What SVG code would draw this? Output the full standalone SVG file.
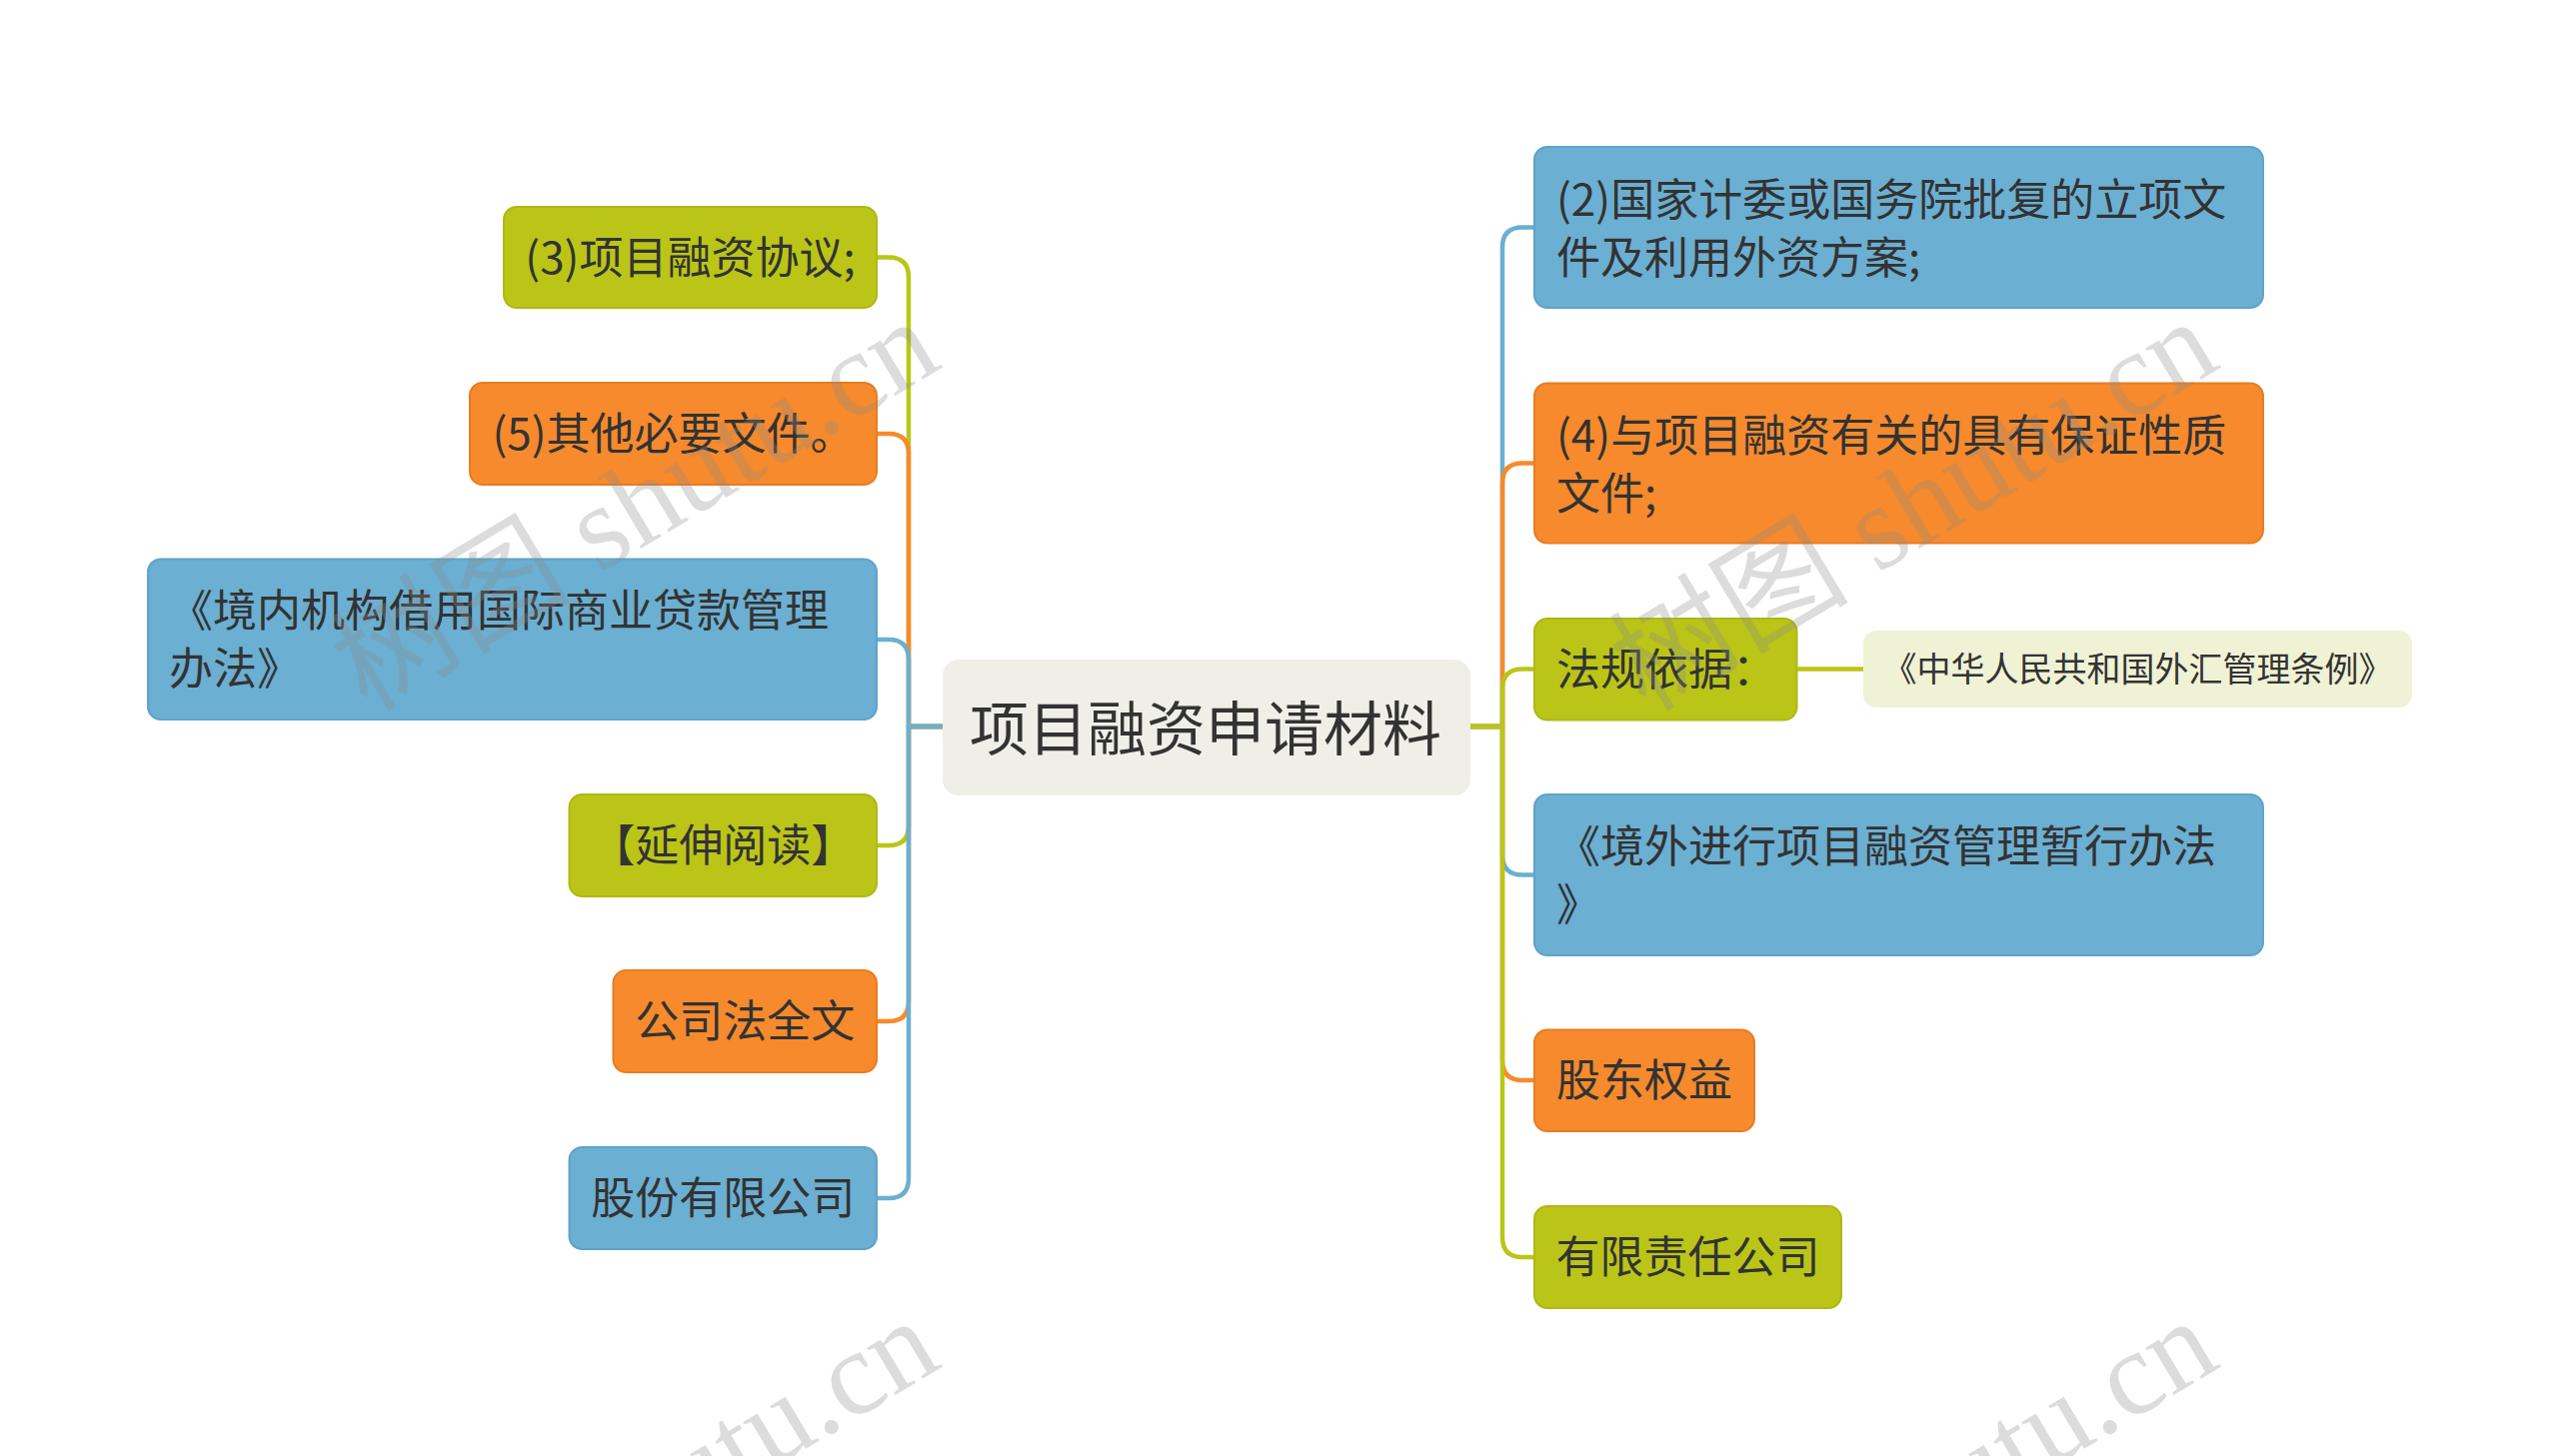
<svg xmlns="http://www.w3.org/2000/svg" width="2560" height="1457" viewBox="0 0 2560 1457">
<style>
.t{font-family:"Noto Sans CJK SC","Microsoft YaHei",sans-serif;font-size:44px;fill:#333333}
.c{font-size:59px}
.s{font-size:34px}
.g{fill:#BBC517;stroke:#AEB815;stroke-width:2}
.o{fill:#F68A2C;stroke:#E77D22;stroke-width:2}
.b{fill:#6BAFD2;stroke:#5FA3C7;stroke-width:2}
.ln{fill:none;stroke-width:4.5;stroke-linejoin:round}
.lg{stroke:#BBC517}.lo{stroke:#F68A2C}.lb{stroke:#6BAFD2}
.wm{font-family:"Liberation Serif","Noto Sans CJK SC",serif;font-size:120px;fill:#8c8c8c;fill-opacity:0.3}
</style>
<rect width="2560" height="1457" fill="#ffffff"/>
<g id="connectors">
<path class="ln lg" d="M943,727 H909 V277.5 Q909,257.5 889,257.5 H877"/>
<path class="ln lo" d="M943,727 H909 V454 Q909,434 889,434 H877"/>
<path class="ln lb" d="M943,727 H909 V660 Q909,640 889,640 H877"/>
<path class="ln lg" d="M943,727 H909 V826 Q909,846 889,846 H877"/>
<path class="ln lo" d="M943,727 H909 V1002 Q909,1022 889,1022 H877"/>
<path class="ln lb" d="M943,727 H909 V1179 Q909,1199 889,1199 H877"/>
<path class="ln lb" d="M1471,727 H1503 V247.5 Q1503,227.5 1523,227.5 H1535"/>
<path class="ln lo" d="M1471,727 H1503 V483.5 Q1503,463.5 1523,463.5 H1535"/>
<path class="ln lg" d="M1471,727 H1503 V689.5 Q1503,669.5 1523,669.5 H1535"/>
<path class="ln lb" d="M1471,727 H1503 V855.5 Q1503,875.5 1523,875.5 H1535"/>
<path class="ln lo" d="M1471,727 H1503 V1061 Q1503,1081 1523,1081 H1535"/>
<path class="ln lg" d="M1471,727 H1503 V1238 Q1503,1258 1523,1258 H1535"/>
<path class="ln lg" d="M1797.5,669.5 H1864"/>
</g>
<g id="center">
<rect x="943" y="660" width="528" height="136" rx="16" fill="#EFEFE7"/>
<text class="t c" x="1206" y="751" text-anchor="middle">项目融资申请材料</text>
</g>
<g id="n3">
<rect class="g" x="504" y="207" width="373" height="101" rx="13"/>
<text class="t" x="690.5" y="274" text-anchor="middle">(3)项目融资协议;</text>
</g>
<g id="n5">
<rect class="o" x="470" y="383" width="407" height="102" rx="13"/>
<text class="t" x="673.5" y="450" text-anchor="middle">(5)其他必要文件。</text>
</g>
<g id="njn">
<rect class="b" x="148" y="559.5" width="729" height="160.5" rx="13"/>
<text class="t" x="169" y="627">《境内机构借用国际商业贷款管理</text>
<text class="t" x="169" y="685">办法》</text>
</g>
<g id="nyd">
<rect class="g" x="569.5" y="795" width="307.5" height="102" rx="13"/>
<text class="t" x="723.25" y="862" text-anchor="middle">【延伸阅读】</text>
</g>
<g id="ngsf">
<rect class="o" x="613.5" y="971" width="263.5" height="102" rx="13"/>
<text class="t" x="745.25" y="1038" text-anchor="middle">公司法全文</text>
</g>
<g id="ngf">
<rect class="b" x="569.5" y="1148" width="307.5" height="102" rx="13"/>
<text class="t" x="723.25" y="1215" text-anchor="middle">股份有限公司</text>
</g>
<g id="n2">
<rect class="b" x="1535" y="147" width="729" height="161" rx="13"/>
<text class="t" x="1557" y="216">(2)国家计委或国务院批复的立项文</text>
<text class="t" x="1557" y="274">件及利用外资方案;</text>
</g>
<g id="n4">
<rect class="o" x="1535" y="383.5" width="729" height="160" rx="13"/>
<text class="t" x="1557" y="452">(4)与项目融资有关的具有保证性质</text>
<text class="t" x="1557" y="510">文件;</text>
</g>
<g id="nfg">
<rect class="g" x="1535" y="619" width="262.5" height="101.5" rx="13"/>
<text class="t" x="1557" y="686">法规依据：</text>
</g>
<g id="nzh">
<rect x="1864" y="631" width="549" height="77" rx="13" fill="#EFF2D4"/>
<text class="t s" x="2138.5" y="682" text-anchor="middle">《中华人民共和国外汇管理条例》</text>
</g>
<g id="njw">
<rect class="b" x="1535" y="795" width="729" height="161" rx="13"/>
<text class="t" x="1557" y="863">《境外进行项目融资管理暂行办法</text>
<text class="t" x="1557" y="921">》</text>
</g>
<g id="ngd">
<rect class="o" x="1535" y="1030.5" width="220" height="101.5" rx="13"/>
<text class="t" x="1645" y="1097" text-anchor="middle">股东权益</text>
</g>
<g id="nyx">
<rect class="g" x="1535" y="1207" width="307" height="102" rx="13"/>
<text class="t" x="1688.5" y="1274" text-anchor="middle">有限责任公司</text>
</g>
<g id="watermark">
<text class="wm" transform="translate(656,540) rotate(-31)" text-anchor="middle">树图 shutu.cn</text>
<text class="wm" transform="translate(1935,540) rotate(-31)" text-anchor="middle">树图 shutu.cn</text>
<text class="wm" transform="translate(656,1540) rotate(-31)" text-anchor="middle">树图 shutu.cn</text>
<text class="wm" transform="translate(1935,1540) rotate(-31)" text-anchor="middle">树图 shutu.cn</text>
</g>
</svg>
